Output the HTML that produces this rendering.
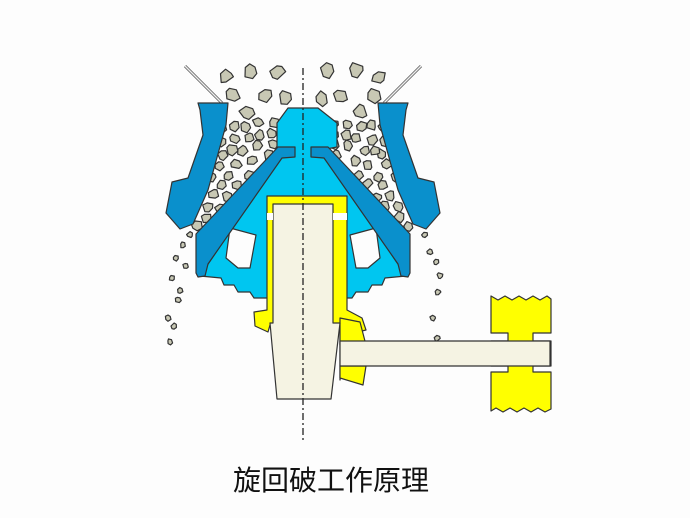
<!DOCTYPE html>
<html><head><meta charset="utf-8"><style>
html,body{margin:0;padding:0;background:#fdfdfd;width:690px;height:518px;overflow:hidden}
svg{display:block}
</style></head><body>
<svg id="s" width="690" height="518" viewBox="0 0 690 518">
<g stroke="#333" stroke-width="1.2" stroke-linejoin="round">
<line x1="185" y1="66" x2="222" y2="103" stroke="#555" stroke-width="3"/>
<line x1="185" y1="66" x2="222" y2="103" stroke="#eee" stroke-width="1.5"/>
<line x1="421" y1="66" x2="384" y2="103" stroke="#555" stroke-width="3"/>
<line x1="421" y1="66" x2="384" y2="103" stroke="#eee" stroke-width="1.5"/>
<g id="rocks"></g>
<path fill="#00c6f0" d="M288,108 L318,108 L337,123 L337,147 L321,150 L406,276 L385,278 L382,285 L372,285 L368,292 L356,292 L352,298 L340,298 L340,320 L268,320 L268,298 L254,298 L250,292 L238,292 L234,285 L224,285 L221,278 L200,276 L285,150 L277,147 L277,123 Z"/>
<path fill="#fdfdfd" d="M230,228 L256,235 L250,268 L238,268 L226,258 Z"/>
<path fill="#fdfdfd" d="M376,228 L350,235 L356,268 L368,268 L380,258 Z"/>
<path fill="#0a90cc" d="M278,147 L295,147 L295,157 L282,158 L208,264 L205,276 L198,277 L196,273 L196,234 Z"/>
<path fill="#0a90cc" d="M328,147 L311,147 L311,157 L324,158 L398,264 L401,276 L408,277 L410,273 L410,234 Z"/>
<path fill="#0a90cc" d="M198,103 L228,103 L226,125 L208,190 L193,224 L180,229 L166,213 L172,182 L188,178 L203,135 L200,110 Z"/>
<path fill="#0a90cc" d="M408,103 L378,103 L380,125 L398,190 L413,224 L426,229 L440,213 L434,182 L418,178 L403,135 L406,110 Z"/>
<path fill="#ffff00" d="M267,196 L347,196 L347,310 L362,318 L366,330 L345,335 L340,380 L340,325 L270,325 L268,332 L255,326 L254,312 L267,310 Z"/>
<path fill="#ffff00" d="M340,318 L360,322 L366,345 L340,345 Z"/>
<path fill="#ffff00" d="M340,366 L366,366 L363,385 L340,378 Z"/>
<path fill="#f5f3e3" d="M273,204 L333,204 L333,323 L340,323 L331,399 L277,399 L270,323 L273,323 Z"/>
<rect x="267" y="213" width="6" height="7" fill="#fff" stroke="none"/>
<rect x="333" y="213" width="14" height="7" fill="#fff" stroke="none"/>
<path fill="#ffff00" d="M491,296 L498,300 L505,296 L512,300 L519,296 L526,300 L533,296 L540,300 L547,296 L551,299 L551,333 L533,333 L533,341 L551,341 L551,366 L533,366 L533,372 L551,372 L551,409 L545,412 L538,408 L531,412 L524,408 L517,412 L510,408 L503,412 L496,408 L491,411 L491,372 L508,372 L508,366 L491,366 L491,341 L508,341 L508,333 L491,333 Z"/>
<rect x="340" y="341" width="210" height="25" fill="#f5f3e3"/>
</g>
<line x1="303" y1="68" x2="303" y2="442" stroke="#222" stroke-width="1.3" stroke-dasharray="7,3,2,3"/>
<text x="331" y="490" text-anchor="middle" font-family="'Liberation Sans','Noto Sans CJK SC',sans-serif" font-size="28" fill="#111">旋回破工作原理</text>
</svg>
<script>
var poly=[[222,70],[278,70],[292,108],[276,128],[277,147],[203,228],[194,228],[212,170],[225,110]];
function inside(x,y){var c=false;for(var i=0,j=poly.length-1;i<poly.length;j=i++){var a=poly[i],b=poly[j];if(((a[1]>y)!=(b[1]>y))&&(x<(b[0]-a[0])*(y-a[1])/(b[1]-a[1])+a[0]))c=!c;}return c;}
var seed=11;function r(){seed=(seed*9301+49297)%233280;return seed/233280;}
var pts=[];for(var k=0;k<4000&&pts.length<45;k++){var x=190+r()*105,y=65+r()*170;if(!inside(x,y))continue;var ok=true;for(var m=0;m<pts.length;m++){var dx=pts[m][0]-x,dy=pts[m][1]-y;if(dx*dx+dy*dy<(y<120?300:110)){ok=false;break;}}if(ok)pts.push([x,y,y<120?7.5:5.5]);}
var all=[];pts.forEach(function(p){all.push(p);all.push([606-p[0]+(r()-0.5)*4,p[1]+(r()-0.5)*4,p[2]]);});
[[190,235],[183,245],[176,258],[186,266],[172,278],[180,290],[178,300],[168,318],[174,326],[170,342],[425,235],[430,252],[436,262],[440,276],[438,292],[433,318],[437,338]].forEach(function(p){all.push([p[0],p[1],3.2]);});
var g=document.getElementById('rocks');
all.forEach(function(p){var rad=p[2],n=6,d='';for(var i=0;i<n;i++){var a=i/n*6.283+r()*0.6,rr=rad*(0.75+r()*0.35);d+=(i?'L':'M')+(p[0]+rr*Math.cos(a)).toFixed(1)+','+(p[1]+rr*Math.sin(a)).toFixed(1);}
var e=document.createElementNS('http://www.w3.org/2000/svg','path');e.setAttribute('d',d+'Z');e.setAttribute('fill','#c8c8b4');g.appendChild(e);});
</script>
</body></html>
